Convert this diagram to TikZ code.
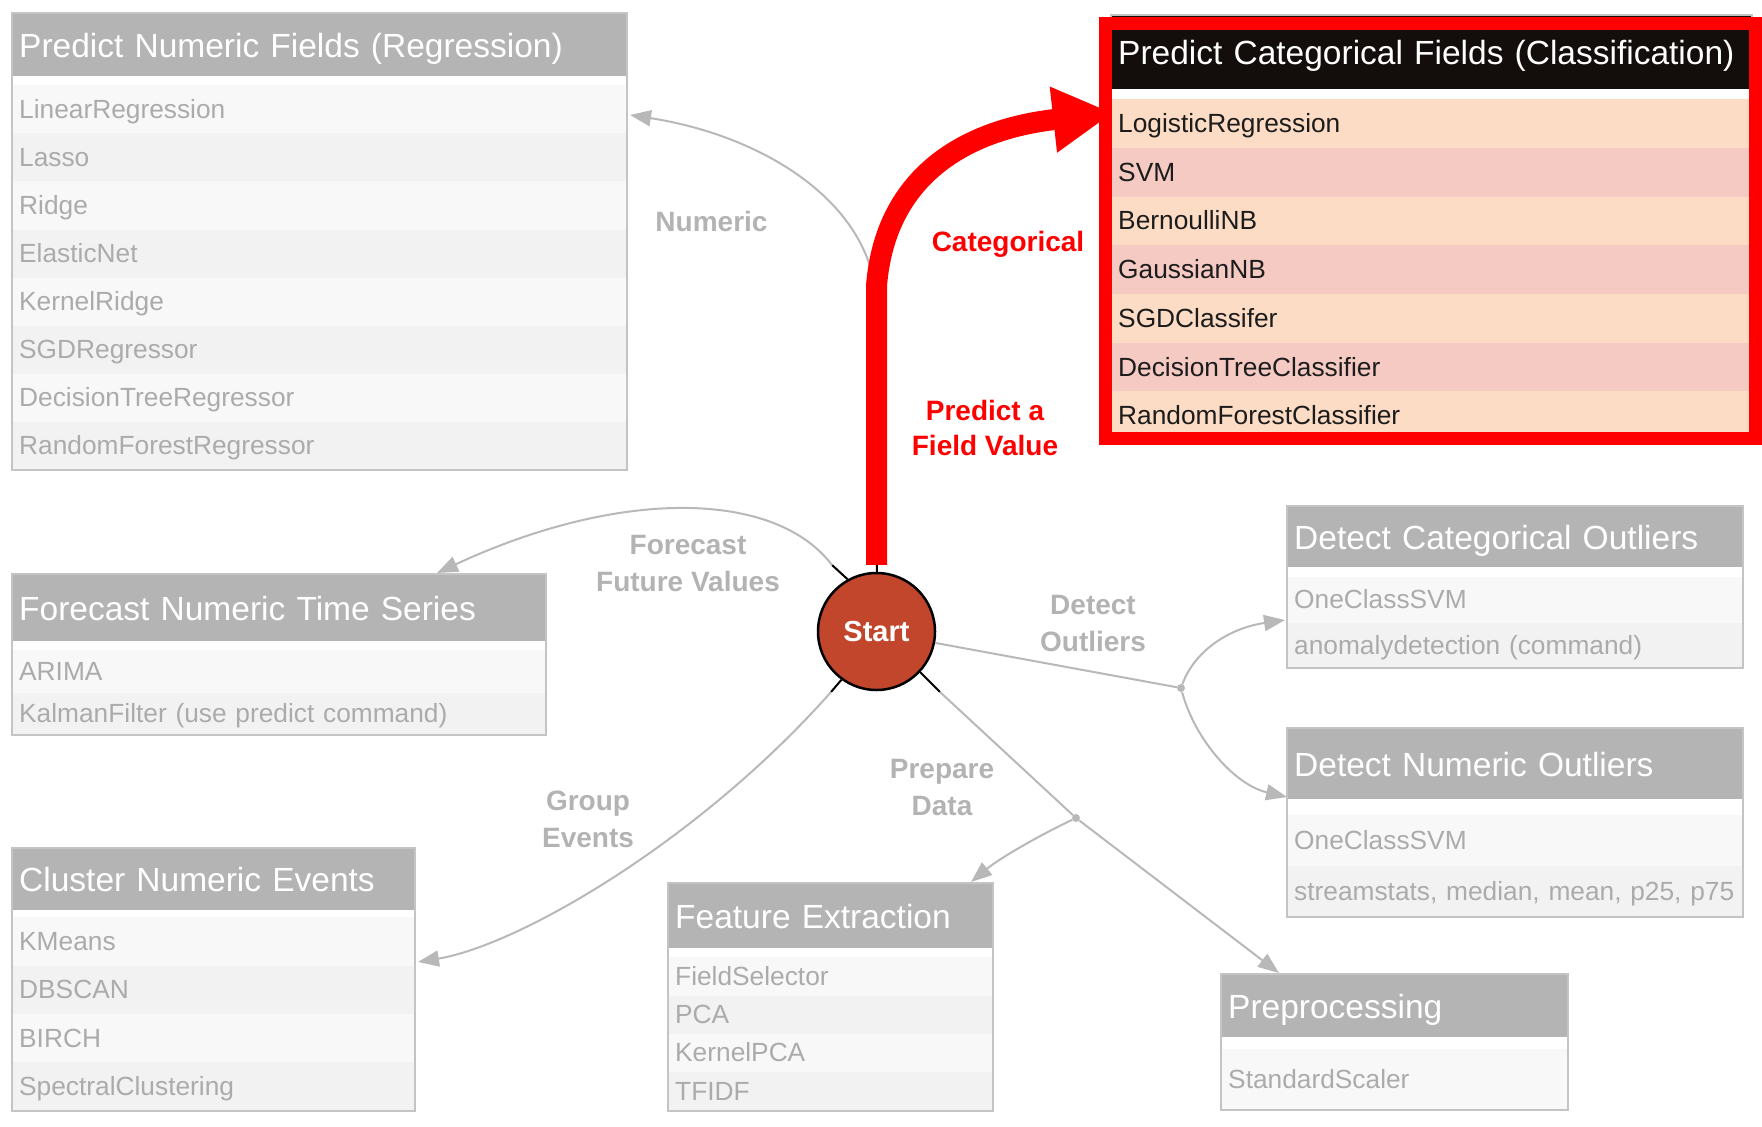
\documentclass[tikz,border=0pt]{standalone}
\usepackage{fontspec}
\setmainfont{Liberation Sans}
\usetikzlibrary{arrows.meta}

\definecolor{hdrgray}{HTML}{B4B4B4}
\definecolor{itemgray}{HTML}{ABABAB}
\definecolor{rowA}{HTML}{F8F8F8}
\definecolor{rowB}{HTML}{F2F2F2}
\definecolor{framegray}{HTML}{C4C4C4}
\definecolor{linegray}{HTML}{B8B8B8}
\definecolor{lblgray}{HTML}{B3B3B3}
\definecolor{startred}{RGB}{193,70,44}
\definecolor{clshead}{HTML}{130E0C}
\definecolor{clspeach}{HTML}{FCDCC5}
\definecolor{clspink}{HTML}{F4CAC3}
\definecolor{clstext}{HTML}{1C1C1C}

\newcommand{\hdrfont}{\fontsize{33.5}{40}\selectfont}
\newcommand{\itemfont}{\fontsize{26.3}{30}\selectfont}
\newcommand{\lblfont}{\fontsize{28}{37}\selectfont\bfseries}
\newcommand{\redlblfont}{\fontsize{28}{35}\selectfont\bfseries}
\newcommand{\startfont}{\fontsize{29}{34}\selectfont\bfseries}

\tikzset{
  hdr/.style={anchor=north west, fill=hdrgray, text=white, font=\hdrfont,
    inner xsep=7pt, inner ysep=0pt, text height=27pt, text depth=2pt, align=left},
  item/.style={anchor=north west, text=itemgray, font=\itemfont,
    inner xsep=7pt, inner ysep=0pt, text height=20pt, text depth=2pt, align=left},
  rowa/.style={item, fill=rowA},
  rowb/.style={item, fill=rowB},
  clshdr/.style={hdr, fill=clshead},
  clsa/.style={item, fill=clspeach, text=clstext},
  clsb/.style={item, fill=clspink, text=clstext},
  boxline/.style={draw=framegray, line width=2pt},
  conn/.style={draw=linegray, line width=2pt, -{Triangle[length=21pt,width=16pt]}},
  link/.style={draw=linegray, line width=2pt},
  redconn/.style={draw=red, line width=21pt, -{Triangle[length=60pt,width=62pt]}},
  stub/.style={draw=black, line width=2pt},
  dot/.style={circle, fill=linegray, inner sep=0pt, minimum size=8pt},
  lbl/.style={font=\lblfont, text=lblgray, align=center, inner sep=0pt},
  redlbl/.style={font=\redlblfont, text=red, align=center, inner sep=0pt},
  startnode/.style={circle, draw=black, line width=2.5pt, fill=startred, text=white,
    font=\startfont, minimum size=117pt, inner sep=0pt},
}

\begin{document}
\begin{tikzpicture}[x=1pt,y=-1pt]
  \useasboundingbox (0,0) rectangle (1762,1127);

  % regression
  \node[hdr, text width=601pt, minimum height=63pt] (regH) at (12,13) {Predict Numeric Fields (Regression)};
  \node[rowa, text width=601pt, minimum height=48.1pt] (reg1) at (12,85) {LinearRegression};
  \node[rowb, text width=601pt, minimum height=48.1pt] (reg2) at (12,133.1) {Lasso};
  \node[rowa, text width=601pt, minimum height=48.1pt] (reg3) at (12,181.2) {Ridge};
  \node[rowb, text width=601pt, minimum height=48.1pt] (reg4) at (12,229.3) {ElasticNet};
  \node[rowa, text width=601pt, minimum height=48.1pt] (reg5) at (12,277.4) {KernelRidge};
  \node[rowb, text width=601pt, minimum height=48.1pt] (reg6) at (12,325.5) {SGDRegressor};
  \node[rowa, text width=601pt, minimum height=48.1pt] (reg7) at (12,373.6) {DecisionTreeRegressor};
  \node[rowb, text width=601pt, minimum height=48.1pt] (reg8) at (12,421.7) {RandomForestRegressor};
  \draw[boxline] (regH.north west) rectangle (reg8.south east);

  % classification
  \node[clshdr, text width=627pt, minimum height=74pt] (clsH) at (1111,15) {Predict Categorical Fields (Classification)};
  \node[clsa, text width=627pt, minimum height=48.7pt] (cls1) at (1111,99) {LogisticRegression};
  \node[clsb, text width=627pt, minimum height=48.7pt] (cls2) at (1111,147.7) {SVM};
  \node[clsa, text width=627pt, minimum height=48.7pt] (cls3) at (1111,196.4) {BernoulliNB};
  \node[clsb, text width=627pt, minimum height=48.7pt] (cls4) at (1111,245.1) {GaussianNB};
  \node[clsa, text width=627pt, minimum height=48.7pt] (cls5) at (1111,293.8) {SGDClassifer};
  \node[clsb, text width=627pt, minimum height=48.7pt] (cls6) at (1111,342.5) {DecisionTreeClassifier};
  \node[clsa, text width=627pt, minimum height=48.7pt] (cls7) at (1111,391.2) {RandomForestClassifier};
  \draw[boxline] (clsH.north west) rectangle (cls7.south east);

  % forecast
  \node[hdr, text width=520pt, minimum height=67pt] (fcH) at (12,574) {Forecast Numeric Time Series};
  \node[rowa, text width=520pt, minimum height=42.5pt] (fc1) at (12,650) {ARIMA};
  \node[rowb, text width=520pt, minimum height=42.5pt] (fc2) at (12,692.5) {KalmanFilter (use predict command)};
  \draw[boxline] (fcH.north west) rectangle (fc2.south east);

  % clustering
  \node[hdr, text width=389pt, minimum height=62pt] (clH) at (12,848) {Cluster Numeric Events};
  \node[rowa, text width=389pt, minimum height=48.4pt] (cl1) at (12,917) {KMeans};
  \node[rowb, text width=389pt, minimum height=48.4pt] (cl2) at (12,965.4) {DBSCAN};
  \node[rowa, text width=389pt, minimum height=48.4pt] (cl3) at (12,1013.8) {BIRCH};
  \node[rowb, text width=389pt, minimum height=48.4pt] (cl4) at (12,1062.2) {SpectralClustering};
  \draw[boxline] (clH.north west) rectangle (cl4.south east);

  % feature extraction
  \node[hdr, text width=311pt, minimum height=65pt] (feH) at (668,883) {Feature Extraction};
  \node[rowa, text width=311pt, minimum height=38.3pt] (fe1) at (668,957) {FieldSelector};
  \node[rowb, text width=311pt, minimum height=38.3pt] (fe2) at (668,995.3) {PCA};
  \node[rowa, text width=311pt, minimum height=38.3pt] (fe3) at (668,1033.6) {KernelPCA};
  \node[rowb, text width=311pt, minimum height=38.3pt] (fe4) at (668,1071.9) {TFIDF};
  \draw[boxline] (feH.north west) rectangle (fe4.south east);

  % preprocessing
  \node[hdr, text width=333pt, minimum height=63pt] (ppH) at (1221,974) {Preprocessing};
  \node[rowa, text width=333pt, minimum height=61pt] (pp1) at (1221,1049) {StandardScaler};
  \draw[boxline] (ppH.north west) rectangle (pp1.south east);

  % outliers
  \node[hdr, text width=442pt, minimum height=61pt] (coH) at (1287,506) {Detect Categorical Outliers};
  \node[rowa, text width=442pt, minimum height=45.5pt] (co1) at (1287,577) {OneClassSVM};
  \node[rowb, text width=442pt, minimum height=45.5pt] (co2) at (1287,622.5) {anomalydetection (command)};
  \draw[boxline] (coH.north west) rectangle (co2.south east);

  \node[hdr, text width=442pt, minimum height=71pt] (noH) at (1287,728) {Detect Numeric Outliers};
  \node[rowa, text width=442pt, minimum height=51pt] (no1) at (1287,815) {OneClassSVM};
  \node[rowb, text width=442pt, minimum height=51pt] (no2) at (1287,866) {streamstats, median, mean, p25, p75};
  \draw[boxline] (noH.north west) rectangle (no2.south east);

  % start
  \node[startnode] (start) at (876.5,631.5) {Start};

  \coordinate (numTip) at (630,115);
  \coordinate (clsTip) at (1113,113);
  \coordinate (fcS) at (832,565);
  \coordinate (fcTip) at (437,573);
  \coordinate (grS) at (831,692);
  \coordinate (grTip) at (418,962);
  \coordinate (coTip) at (1285,620);
  \coordinate (noTip) at (1287,797);
  \coordinate (prS) at (940,692);
  \coordinate (ppTip) at (1279,973);
  \coordinate (feTip) at (971,882);
  \node[dot] (outJ) at (1181,688) {};
  \node[dot] (prJ) at (1076,818) {};

  % connectors
  \draw[conn] (start) -- (876.5,300) .. controls (870,200) and (760,135) .. (numTip);
  \draw[stub] (start.north) -- ++(0,-7);
  \draw[redconn] ([yshift=7pt]start.north) -- ++(0,-279) .. controls (885,180) and (960,130) .. (clsTip);

  \draw[stub] (start.119) -- (fcS);
  \draw[conn] (fcS) .. controls (775,490) and (620,488) .. (fcTip);

  \draw[stub] (start.-126) -- (grS);
  \draw[conn] (grS) .. controls (700,840) and (520,945) .. (grTip);

  \draw[link] (start.-11) -- (outJ);
  \draw[conn] (outJ) .. controls (1195,650) and (1230,628) .. (coTip);
  \draw[conn] (outJ) .. controls (1195,740) and (1235,785) .. (noTip);

  \draw[stub] (start.-43) -- (prS);
  \draw[link] (prS) -- (prJ);
  \draw[conn] (prJ) -- (ppTip);
  \draw[conn] (prJ) .. controls (1040,835) and (1000,858) .. (feTip);

  % labels
  \node[lbl, anchor=base] (numL) at (711.5,231.7) {Numeric};
  \node[redlbl, anchor=base] (catL) at (1008,251.7) {Categorical};
  \node[redlbl] (predL) at (985,428) {Predict a\\Field Value};
  \node[lbl] (fcL) at (688,563.5) {Forecast\\Future Values};
  \node[lbl] (grL) at (588,819.5) {Group\\Events};
  \node[lbl] (outL) at (1093,623) {Detect\\Outliers};
  \node[lbl] (prL) at (942,787) {Prepare\\Data};

  % highlight
  \draw[red, line width=13pt] (1105.5,23.5) rectangle (1755.5,438.5);
\end{tikzpicture}
\end{document}
